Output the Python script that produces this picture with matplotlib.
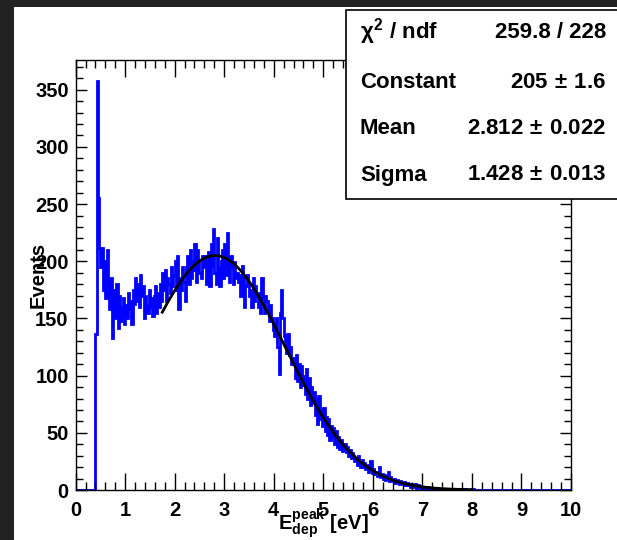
import numpy as np
import matplotlib
matplotlib.use("Agg")
import matplotlib.pyplot as plt
from matplotlib.patches import Rectangle
from matplotlib.ticker import MultipleLocator

plt.rcParams['font.family'] = ['Liberation Sans', 'DejaVu Sans']
plt.rcParams['font.weight'] = 'bold'
plt.rcParams['mathtext.fontset'] = 'custom'
plt.rcParams['mathtext.rm'] = 'Liberation Sans:bold'
plt.rcParams['mathtext.it'] = 'Liberation Sans'
plt.rcParams['mathtext.bf'] = 'Liberation Sans:bold'

# histogram: 400 bins of 0.025 eV over [0, 10]; counts
bin_width = 0.025
first_filled = 0.4      # everything below is empty
counts = [
    136, 358, 255, 212, 195, 212, 175, 200,   # 0.4 - 0.6
    168, 210, 172, 158, 185, 133, 168, 175,   # 0.6 - 0.8
    150, 180, 142, 170, 160, 148, 168, 145,   # 0.8 - 1.0
    162, 150, 172, 158, 165, 145, 175, 163,   # 1.0 - 1.2
    185, 165, 180, 160, 188, 170, 178, 150,   # 1.2 - 1.4
    170, 162, 155, 175, 160, 168, 152, 170,   # 1.4 - 1.6
    178, 155, 172, 160, 180, 165, 190, 175,   # 1.6 - 1.8
    192, 165, 185, 180, 172, 195, 178, 188,   # 1.8 - 2.0
    200, 175, 205, 158, 185, 175, 195, 182,   # 2.0 - 2.2
    165, 195, 205, 180, 210, 185, 200, 192,   # 2.2 - 2.4
    215, 182, 210, 200, 190, 185, 205, 195,   # 2.4 - 2.6
    205, 180, 190, 208, 178, 215, 196, 228,   # 2.6 - 2.8
    190, 180, 220, 195, 178, 200, 210, 185,   # 2.8 - 3.0
    215, 188, 225, 192, 182, 205, 195, 180,   # 3.0 - 3.2
    199, 185, 190, 182, 188, 170, 196, 185,   # 3.2 - 3.4
    160, 178, 188, 180, 170, 175, 160, 185,   # 3.4 - 3.6
    165, 178, 170, 160, 172, 155, 185, 168,   # 3.6 - 3.8
    155, 170, 165, 158, 148, 162, 150, 140,   # 3.8 - 4.0
    135, 145, 150, 125, 101, 155, 175, 150,   # 4.0 - 4.2
    135, 130, 120, 136, 118, 125, 110, 115,   # 4.2 - 4.4
    115, 98, 118, 95, 110, 90, 108, 92,       # 4.4 - 4.6
    100, 84, 106, 80, 98, 74, 90, 76,         # 4.6 - 4.8
    86, 66, 80, 58, 82, 62, 70, 56,           # 4.8 - 5.0
    72, 52, 64, 48, 62, 44, 56, 46,           # 5.0 - 5.2
    54, 40, 52, 38, 46, 36, 44, 34,           # 5.2 - 5.4
    36, 40, 33, 38, 30, 35, 28, 32,           # 5.4 - 5.6
    30, 25, 28, 22, 30, 24, 20, 26,           # 5.6 - 5.8
    20, 24, 18, 22, 16, 19, 25, 15,           # 5.8 - 6.0
    18, 14, 16, 12, 15, 20, 11, 14,           # 6.0 - 6.2
    10, 13, 9, 12, 16, 8, 11, 9,              # 6.2 - 6.4
    8, 10, 6, 9, 7, 5, 8, 6,                  # 6.4 - 6.6
    5, 7, 4, 6, 4, 5, 3, 5,                   # 6.6 - 6.8
    4, 3, 5, 2, 4, 3, 2, 3,                   # 6.8 - 7.0
    2, 3, 1, 2, 3, 1, 2, 2,                   # 7.0 - 7.2
    1, 2, 1, 1, 2, 0, 1, 1,                   # 7.2 - 7.4
    1, 0, 1, 1, 0, 1, 0, 1,                   # 7.4 - 7.6
    0, 1, 0, 1, 0, 0, 1, 0,                   # 7.6 - 7.8
    0, 0, 1, 0, 0, 0, 0, 1,                   # 7.8 - 8.0
    0, 1, 0, 0, 0, 0, 0, 0,                   # 8.0 - 8.2
]

# gaussian fit result (from the stats box)
fit_const = 205
fit_mean = 2.812
fit_sigma = 1.428
fit_range = (1.75, 8.0)

stat_labels = [r'$\chi^{2}$ / ndf', 'Constant', 'Mean', 'Sigma']
stat_values = ['259.8 / 228', r'205$\,\pm\,$1.6', r'2.812$\,\pm\,$0.022', r'1.428$\,\pm\,$0.013']

edges = np.arange(401) * bin_width
values = np.zeros(400)
start = int(round(first_filled / bin_width))
values[start:start + len(counts)] = counts

W, H = 617, 540
fig = plt.figure(figsize=(W / 100, H / 100), dpi=100, facecolor='#222222')
fig.patches.append(Rectangle((14 / W, 0), 1, (H - 7) / H, transform=fig.transFigure,
                             facecolor='white', edgecolor='none', zorder=-10))

ax = fig.add_axes([75.6 / W, (H - 490) / H, (571 - 75.6) / W, (490 - 60) / H])
ax.set_facecolor('white')
ax.stairs(values, edges, color='#0000ff', lw=2.0)

xf = np.linspace(fit_range[0], fit_range[1], 400)
ax.plot(xf, fit_const * np.exp(-0.5 * ((xf - fit_mean) / fit_sigma) ** 2), color='black', lw=2)

ax.set_xlim(0, 10)
ax.set_ylim(0, 376)
ax.xaxis.set_major_locator(MultipleLocator(1))
ax.xaxis.set_minor_locator(MultipleLocator(0.2))
ax.yaxis.set_major_locator(MultipleLocator(50))
ax.yaxis.set_minor_locator(MultipleLocator(10))
ax.tick_params(axis='x', which='major', direction='in', length=12, width=1, top=True, pad=8, labelsize=14.5)
ax.tick_params(axis='x', which='minor', direction='in', length=6, width=1, top=True)
ax.tick_params(axis='y', which='major', direction='in', length=8, width=1, right=True, pad=5, labelsize=14.5)
ax.tick_params(axis='y', which='minor', direction='in', length=5, width=1, right=True)
for s in ax.spines.values():
    s.set_linewidth(1)

fig.text(323 / W, 1 - 530 / H, r'$\mathrm{E}^{\mathrm{peak}}_{\mathrm{dep}}$ [eV]', ha='center', va='baseline', fontsize=14.5)
fig.text(38 / W, 1 - 275 / H, 'Events', rotation=90, ha='center', va='center', fontsize=14.5)

# stats box, cut off by the right edge like in the original
fig.patches.append(Rectangle((346 / W, 1 - 199 / H), 1, (199 - 10) / H, transform=fig.transFigure,
                             facecolor='white', edgecolor='black', lw=1.2, zorder=5))
row_y = [32, 82, 129, 175]
for lab, val, y in zip(stat_labels, stat_values, row_y):
    fig.text(360 / W, 1 - y / H, lab, ha='left', va='center', fontsize=16, zorder=6)
    fig.text(606 / W, 1 - y / H, val, ha='right', va='center', fontsize=16, zorder=6)

fig.savefig('out.png', dpi=100, facecolor=fig.get_facecolor())
